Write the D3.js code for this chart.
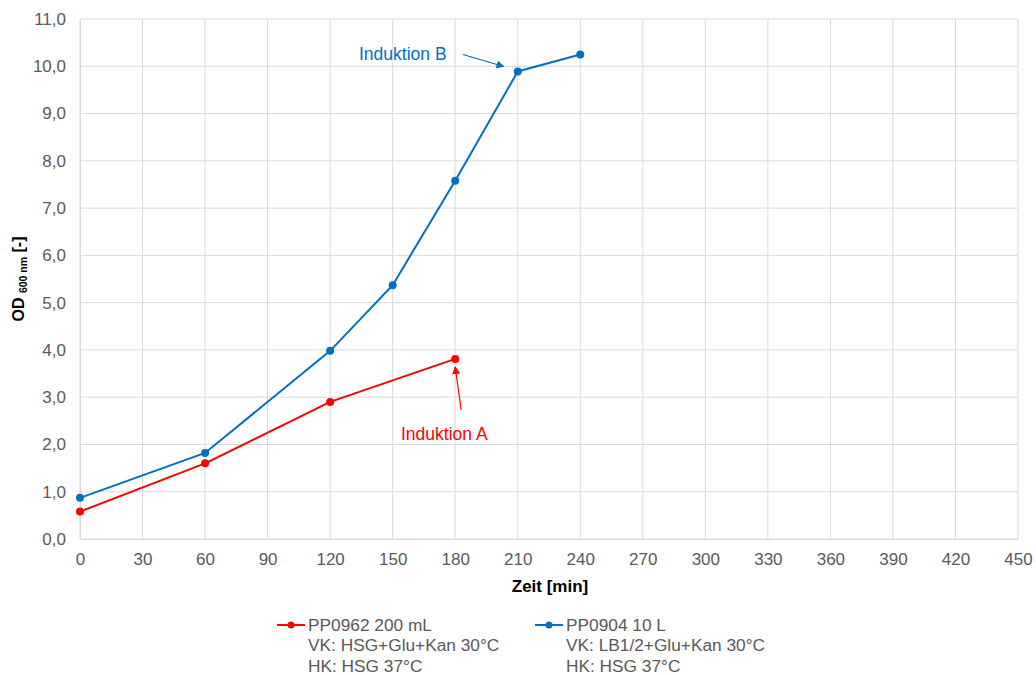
<!DOCTYPE html>
<html>
<head>
<meta charset="utf-8">
<script src="https://cdn.jsdelivr.net/npm/d3@7"></script>
<style>
  body { margin: 0; background: #fff; }
  svg { font-family: "Liberation Sans", Arial, sans-serif; }
</style>
</head>
<body>
<svg id="chart" width="1036" height="675"></svg>
<script>
// Time points (min) and OD600 readings per culture
const timeA = [0, 60, 120, 180];
const odA = [0.58, 1.60, 2.90, 3.81];
const timeB = [0, 60, 120, 150, 180, 210, 240];
const odB = [0.87, 1.82, 3.98, 5.37, 7.58, 9.89, 10.25];

const xTicks = d3.range(0, 451, 30);
const yTicks = d3.range(0, 11.01, 1);

const seriesNames = ["PP0962 200 mL", "PP0904 10 L"];
const seriesNotes = [
  ["VK: HSG+Glu+Kan 30°C", "HK: HSG 37°C"],
  ["VK: LB1/2+Glu+Kan 30°C", "HK: HSG 37°C"]
];
const seriesColors = ["#FF0000", "#0070C0"];

const svg = d3.select("#chart");
const margin = { left: 80, right: 18, top: 19, bottom: 136 };
const W = 1036, H = 675;

const x = d3.scaleLinear().domain([0, 450]).range([margin.left, W - margin.right]);
const y = d3.scaleLinear().domain([0, 11]).range([H - margin.bottom, margin.top]);

const grid = "#d9d9d9";
const tickColor = "#595959";

// Gridlines
svg.append("g").selectAll("line.v").data(xTicks).join("line")
  .attr("x1", d => x(d)).attr("x2", d => x(d))
  .attr("y1", y(0)).attr("y2", y(11))
  .attr("stroke", grid).attr("stroke-width", 1);
svg.append("g").selectAll("line.h").data(yTicks).join("line")
  .attr("x1", x(0)).attr("x2", x(450))
  .attr("y1", d => y(d)).attr("y2", d => y(d))
  .attr("stroke", grid).attr("stroke-width", 1);

// Axes
const fmt = d => d.toFixed(1).replace(".", ",");
const xAxis = svg.append("g").attr("transform", `translate(0,${y(0)})`)
  .call(d3.axisBottom(x).tickValues(xTicks).tickSize(0).tickPadding(14));
const yAxis = svg.append("g").attr("transform", `translate(${x(0)},0)`)
  .call(d3.axisLeft(y).tickValues(yTicks).tickFormat(fmt).tickSize(0).tickPadding(14));
[xAxis, yAxis].forEach(a => {
  a.select(".domain").attr("stroke", grid);
  a.selectAll("text").attr("fill", tickColor).attr("font-size", 17)
    .attr("font-family", "'Liberation Sans', Arial, sans-serif");
});

// Axis titles
svg.append("text")
  .attr("x", 550).attr("y", 592)
  .attr("text-anchor", "middle").attr("font-weight", "bold").attr("font-size", 17)
  .attr("fill", "#000").text("Zeit [min]");

const yt = svg.append("text")
  .attr("transform", `translate(24,279) rotate(-90)`)
  .attr("text-anchor", "middle").attr("font-weight", "bold").attr("font-size", 16).attr("fill", "#000");
yt.append("tspan").text("OD ");
yt.append("tspan").attr("font-size", 10.5).attr("dy", 3).text("600 nm");
yt.append("tspan").attr("dy", -3).text(" [-]");

// Series lines and markers
const line = d3.line().x(d => x(d[0])).y(d => y(d[1]));
const series = [
  d3.zip(timeA, odA),
  d3.zip(timeB, odB)
];
series.forEach((pts, i) => {
  svg.append("path").datum(pts).attr("d", line)
    .attr("fill", "none").attr("stroke", seriesColors[i]).attr("stroke-width", 2);
  svg.append("g").selectAll("circle").data(pts).join("circle")
    .attr("cx", d => x(d[0])).attr("cy", d => y(d[1])).attr("r", 4)
    .attr("fill", seriesColors[i]);
});

// Arrow markers for annotations
const defs = svg.append("defs");
seriesColors.forEach((c, i) => {
  defs.append("marker").attr("id", "arr" + i)
    .attr("viewBox", "0 0 10 10").attr("refX", 9).attr("refY", 5)
    .attr("markerWidth", 8).attr("markerHeight", 8).attr("markerUnits", "userSpaceOnUse")
    .attr("orient", "auto")
    .append("path").attr("d", "M0,0 L10,5 L0,10 z").attr("fill", c);
});

// Induktion A
svg.append("line")
  .attr("x1", x(180) + 6).attr("y1", y(3.81) + 51)
  .attr("x2", x(180)).attr("y2", y(3.81) + 8)
  .attr("stroke", seriesColors[0]).attr("stroke-width", 1.2).attr("marker-end", "url(#arr0)");
svg.append("text").attr("x", 401).attr("y", 440)
  .attr("font-size", 17.5).attr("fill", seriesColors[0]).text("Induktion A");

// Induktion B
svg.append("line")
  .attr("x1", 463).attr("y1", 54.5)
  .attr("x2", x(210) - 14).attr("y2", y(9.89) - 5)
  .attr("stroke", seriesColors[1]).attr("stroke-width", 1.2).attr("marker-end", "url(#arr1)");
svg.append("text").attr("x", 359).attr("y", 60)
  .attr("font-size", 17.5).attr("fill", seriesColors[1]).text("Induktion B");

// Legend
const legendX = [277, 535];
seriesNames.forEach((name, i) => {
  const g = svg.append("g").attr("transform", `translate(${legendX[i]},625)`);
  g.append("line").attr("x1", 0).attr("x2", 28).attr("y1", 0).attr("y2", 0)
    .attr("stroke", seriesColors[i]).attr("stroke-width", 2);
  g.append("circle").attr("cx", 14).attr("cy", 0).attr("r", 3.5).attr("fill", seriesColors[i]);
  const lines = [name].concat(seriesNotes[i]);
  g.selectAll("text").data(lines).join("text")
    .attr("x", 31).attr("y", (d, k) => 5.5 + k * 20.5)
    .attr("font-size", 17.3).attr("fill", tickColor).text(d => d);
});
</script>
</body>
</html>
